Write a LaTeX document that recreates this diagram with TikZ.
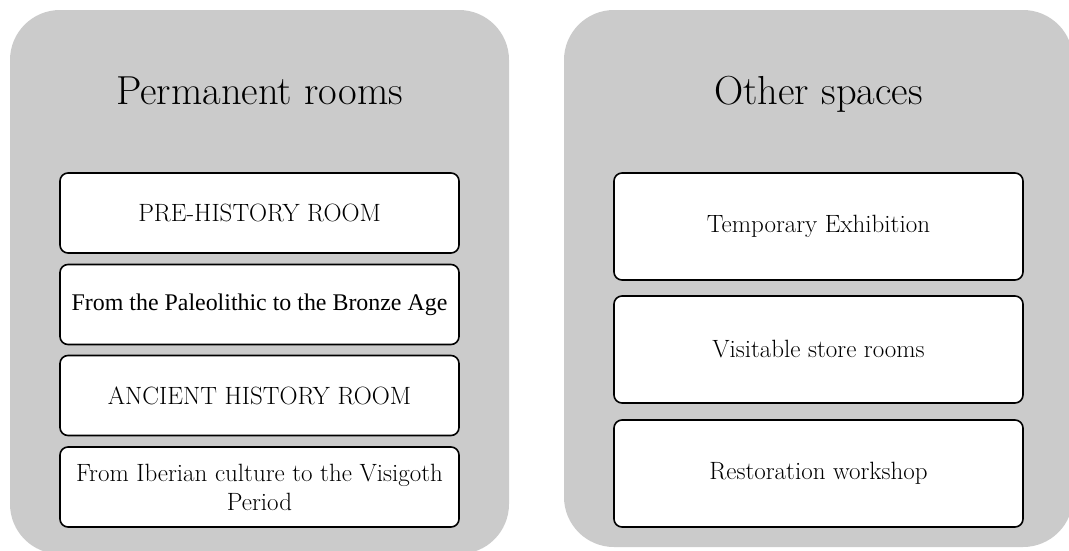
\documentclass[tikz,border=0pt]{standalone}
\usepackage{fontspec}
\newfontfamily\timesf{Liberation Serif}
\definecolor{panelgray}{HTML}{CBCBCB}
\tikzset{
  panel/.style={fill=panelgray, draw=none, rounded corners=50pt},
  titletext/.style={font=\fontsize{40.5}{46}\selectfont, inner sep=0pt, anchor=base},
  roombox/.style={draw=black, fill=white, line width=1.6pt, rounded corners=8pt,
    minimum width=399pt, minimum height=80pt, inner sep=0pt, align=center,
    font=\fontsize{25}{29}\selectfont},
  spacebox/.style={roombox, minimum width=409pt, minimum height=107pt},
  tfont/.style={font=\timesf\fontsize{23.9}{29}\selectfont}
}
\begin{document}
\begin{tikzpicture}[x=1pt,y=-1pt]
\useasboundingbox (0,0) rectangle (1069,550);
\clip (0,0) rectangle (1069,550);
\fill[white] (0,0) rectangle (1069,550);
% panels
\path[panel] (10,10) rectangle (509,554);
\path[panel] (564,10) rectangle (1073,547);
% titles
\node[titletext] (t1) at (259.5,104) {Permanent rooms};
\node[titletext] (t2) at (818.5,104) {Other spaces};
% left boxes
\node[roombox] (b1) at (259.5,213) {PRE-HISTORY ROOM};
\node[roombox, tfont] (b2) at (259.5,304.5) {From the Paleolithic to the Bronze Age};
\node[roombox] (b3) at (259.5,395.5) {ANCIENT HISTORY ROOM};
\node[roombox] (b4) at (259.5,487) {From Iberian culture to the Visigoth\\Period};
% right boxes
\node[spacebox] (s1) at (818.5,226.5) {Temporary Exhibition};
\node[spacebox] (s2) at (818.5,349.5) {Visitable store rooms};
\node[spacebox] (s3) at (818.5,473.5) {Restoration workshop};
\end{tikzpicture}
\end{document}
